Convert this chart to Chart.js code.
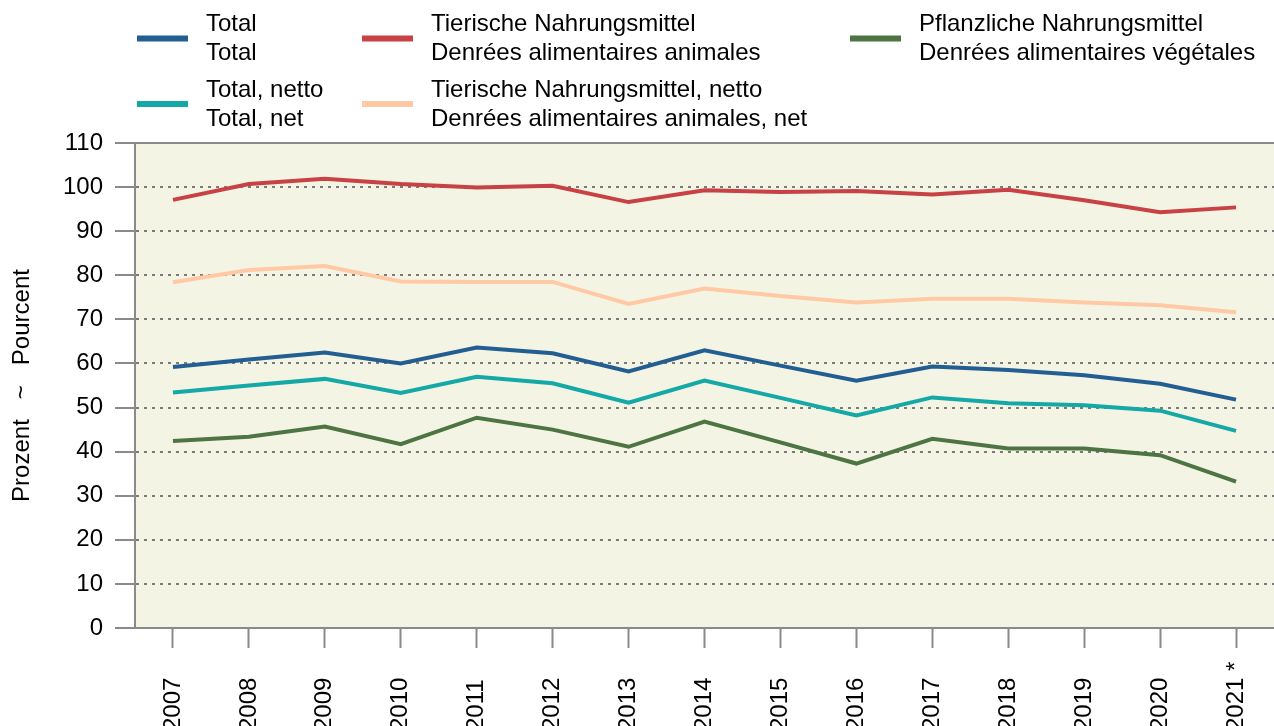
<!DOCTYPE html>
<html lang="de">
<head>
<meta charset="UTF-8">
<title>Selbstversorgungsgrad</title>
<script src="https://cdn.jsdelivr.net/npm/chart.js"></script>
<style>
  html, body { margin: 0; padding: 0; background: #fff; }
</style>
</head>
<body>
<canvas id="chart" width="1274" height="726"></canvas>
<script>
// Werte in Prozent
const years = ['2007', '2008', '2009', '2010', '2011', '2012', '2013', '2014',
               '2015', '2016', '2017', '2018', '2019', '2020', '2021 *'];
const total     = [59.2, 60.9, 62.5, 60.0, 63.6, 62.3, 58.2, 63.0, 59.5, 56.1, 59.3, 58.5, 57.3, 55.4, 51.8];
const animal    = [97.1, 100.7, 101.9, 100.7, 99.9, 100.3, 96.6, 99.3, 98.9, 99.1, 98.3, 99.4, 97.0, 94.3, 95.4];
const plant     = [42.4, 43.4, 45.7, 41.7, 47.7, 45.0, 41.1, 46.8, 42.1, 37.3, 42.9, 40.7, 40.7, 39.2, 33.2];
const totalNet  = [53.4, 55.0, 56.5, 53.3, 57.0, 55.5, 51.1, 56.1, 52.2, 48.2, 52.3, 51.0, 50.5, 49.3, 44.7];
const animalNet = [78.4, 81.2, 82.1, 78.6, 78.5, 78.5, 73.5, 77.0, 75.3, 73.8, 74.7, 74.7, 73.8, 73.2, 71.6];
const yTicks = [0, 10, 20, 30, 40, 50, 60, 70, 80, 90, 100, 110];

const seriesNames = [
  ['Total', 'Total'],
  ['Tierische Nahrungsmittel', 'Denrées alimentaires animales'],
  ['Pflanzliche Nahrungsmittel', 'Denrées alimentaires végétales'],
  ['Total, netto', 'Total, net'],
  ['Tierische Nahrungsmittel, netto', 'Denrées alimentaires animales, net']
];
const colors = ['#225E92', '#C84144', '#4E7444', '#14A8A6', '#FFC9A5'];

const FONT = '"Liberation Sans", Arial, sans-serif';
const GRAY = '#8a8a8a';

Chart.defaults.font.family = FONT;
Chart.defaults.color = '#000';

// Hintergrund der Zeichenfläche und obere Linie
const panel = {
  id: 'panel',
  beforeDraw(chart) {
    const { ctx, chartArea: a } = chart;
    ctx.save();
    ctx.fillStyle = '#F3F4E3';
    ctx.fillRect(a.left, a.top, a.right - a.left, a.bottom - a.top);
    ctx.restore();
  },
  afterDraw(chart) {
    const { ctx, chartArea: a } = chart;
    ctx.save();
    ctx.strokeStyle = GRAY;
    ctx.lineWidth = 2;
    ctx.beginPath();
    ctx.moveTo(a.left, a.top);
    ctx.lineTo(a.right, a.top);
    ctx.stroke();
    ctx.restore();
  }
};

// Legende mit zweizeiligen Texten
const legend2 = {
  id: 'legend2',
  afterDraw(chart) {
    const ctx = chart.ctx;
    const colX = [137, 362, 850];
    const rowY = [38.5, 104];
    ctx.save();
    ctx.font = '24px ' + FONT;
    ctx.fillStyle = '#000';
    ctx.textAlign = 'left';
    ctx.textBaseline = 'alphabetic';
    chart.data.datasets.forEach((ds, i) => {
      const x = colX[i % 3];
      const y = rowY[Math.floor(i / 3)];
      ctx.strokeStyle = ds.borderColor;
      ctx.lineWidth = 6;
      ctx.beginPath();
      ctx.moveTo(x, y);
      ctx.lineTo(x + 51, y);
      ctx.stroke();
      const lines = seriesNames[i];
      ctx.fillText(lines[0], x + 69, y - 7.5);
      ctx.fillText(lines[1], x + 69, y + 21.5);
    });
    ctx.restore();
  }
};

// Jahreszahlen senkrecht, von unten beginnend
const yearLabels = {
  id: 'yearLabels',
  afterDraw(chart) {
    const ctx = chart.ctx;
    const xs = chart.scales.x;
    ctx.save();
    ctx.font = '24px ' + FONT;
    ctx.fillStyle = '#000';
    ctx.textAlign = 'left';
    ctx.textBaseline = 'middle';
    years.forEach((label, i) => {
      ctx.save();
      ctx.translate(xs.getPixelForValue(i), 731);
      ctx.rotate(-Math.PI / 2);
      ctx.fillText(label, 0, 0);
      ctx.restore();
    });
    ctx.restore();
  }
};

const series = [total, animal, plant, totalNet, animalNet];

new Chart(document.getElementById('chart'), {
  type: 'line',
  data: {
    labels: years,
    datasets: series.map((d, i) => ({
      label: seriesNames[i].join(' / '),
      data: d,
      borderColor: colors[i],
      backgroundColor: colors[i],
      borderWidth: 4,
      pointRadius: 0,
      tension: 0,
      fill: false
    }))
  },
  options: {
    responsive: false,
    animation: false,
    devicePixelRatio: 1,
    layout: { padding: { top: 143, left: 0, right: 0, bottom: 0 } },
    plugins: {
      legend: { display: false },
      tooltip: { enabled: false }
    },
    scales: {
      x: {
        type: 'category',
        offset: true,
        grid: {
          offset: false,
          drawOnChartArea: false,
          drawTicks: true,
          tickLength: 20,
          tickColor: GRAY,
          tickWidth: 2
        },
        border: { display: true, color: GRAY, width: 2 },
        ticks: { display: false },
        afterFit(s) { s.height = 98; s.paddingLeft = 0; s.paddingRight = 0; }
      },
      y: {
        min: 0,
        max: 110,
        afterBuildTicks(s) { s.ticks = yTicks.map(v => ({ value: v })); },
        ticks: { font: { size: 24 }, color: '#000', padding: 12 },
        grid: {
          color: c => (c.tick && (c.tick.value === 0 || c.tick.value === 110)) ? 'rgba(0,0,0,0)' : '#7a7a7a',
          lineWidth: 2,
          tickLength: 20,
          tickColor: GRAY,
          tickWidth: 2,
          tickBorderDash: []
        },
        border: { display: true, color: GRAY, width: 2, dash: [3, 5] },
        title: {
          display: true,
          text: 'Prozent   ~   Pourcent',
          font: { size: 24 },
          color: '#000',
          padding: { top: 8, bottom: 0 }
        },
        afterFit(s) { s.width = 135; s.paddingTop = 0; s.paddingBottom = 0; }
      }
    }
  },
  plugins: [panel, legend2, yearLabels]
});
</script>
</body>
</html>
